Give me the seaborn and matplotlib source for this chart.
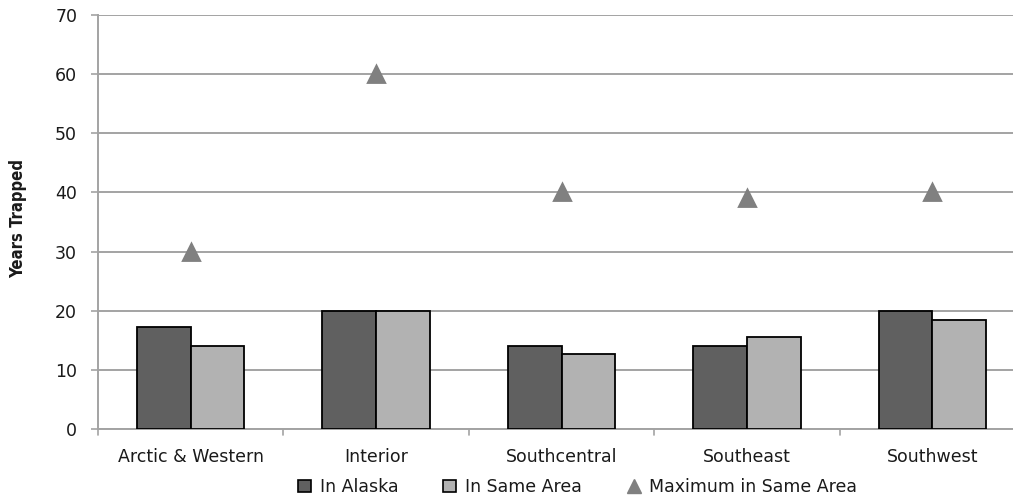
import matplotlib
matplotlib.use("Agg")
import matplotlib.pyplot as plt
from matplotlib.lines import Line2D
from matplotlib.patches import Patch
import pandas as pd
import seaborn as sns

regions = ["Arctic & Western", "Interior", "Southcentral", "Southeast", "Southwest"]
in_alaska = [17.2, 20.0, 14.0, 14.0, 20.0]
in_same_area = [14.0, 20.0, 12.6, 15.5, 18.4]
max_same_area = [30, 60, 40, 39, 40]
series_names = ["In Alaska", "In Same Area", "Maximum in Same Area"]
y_ticks = [0, 10, 20, 30, 40, 50, 60, 70]

bars = pd.DataFrame({
    "Region": regions * 2,
    "Years": in_alaska + in_same_area,
    "Series": [series_names[0]] * len(regions) + [series_names[1]] * len(regions),
})
peaks = pd.DataFrame({"Region": regions, "Years": max_same_area})

sns.set_theme(style="white")
plt.rcParams["font.family"] = ["DejaVu Sans"]

dark, light, tri = "#606060", "#b2b2b2", "#808080"
grid_c = "#a3a3a3"
text_c = "#1a1a1a"

fig = plt.figure(figsize=(10.13, 5.0), dpi=100)
ax = fig.add_axes([98 / 1013, 71 / 500, 927 / 1013, 414 / 500])

sns.barplot(data=bars, x="Region", y="Years", hue="Series", order=regions,
            hue_order=series_names[:2], palette=[dark, light], width=0.58,
            gap=0, edgecolor="black", linewidth=1.3, legend=False, ax=ax, zorder=3)
sns.pointplot(data=peaks, x="Region", y="Years", order=regions, color=tri,
              marker="^", markersize=11, linestyle="none", errorbar=None, ax=ax)
for art in ax.collections + ax.lines:
    art.set_zorder(4)

ax.set_ylim(0, 70)
ax.set_xlim(-0.5, len(regions) - 0.5)
ax.set_yticks(y_ticks)
ax.yaxis.grid(True, color=grid_c, linewidth=1.4, zorder=0)
ax.set_axisbelow(True)
ax.tick_params(axis="y", left=True, length=5, width=1.2, color=grid_c,
               labelsize=12.5, pad=10, labelcolor=text_c)
ax.set_xticks(range(len(regions)))
ax.set_xticklabels(regions)
ax.tick_params(axis="x", bottom=False, labelsize=12.5, pad=8, labelcolor=text_c)
for b in [i + 0.5 for i in range(-1, len(regions))]:
    ax.plot([b, b], [0, -1.0], color=grid_c, lw=1.2, clip_on=False, zorder=1)
for side in ["top", "right"]:
    ax.spines[side].set_visible(False)
for side in ["left", "bottom"]:
    ax.spines[side].set_color(grid_c)
    ax.spines[side].set_linewidth(1.4)

ax.set_xlabel("")
ax.set_ylabel("")
fig.text(18 / 1013, (500 - 219) / 500, "Years Trapped", rotation=90,
         ha="center", va="center", fontsize=12, fontweight="bold",
         fontstretch="condensed", color=text_c,
         family=["Liberation Sans Narrow", "DejaVu Sans"])

handles = [
    Patch(facecolor=dark, edgecolor="black", linewidth=1.2),
    Patch(facecolor=light, edgecolor="black", linewidth=1.2),
    Line2D([], [], marker="^", color=tri, linestyle="none", markersize=10),
]
fig.legend(handles, series_names, loc="center", bbox_to_anchor=(0.57, 0.026),
           ncol=3, frameon=False, fontsize=12.5, handlelength=0.75,
           handleheight=0.75, handletextpad=0.5, columnspacing=2.6,
           labelcolor=text_c)

fig.savefig("out.png", dpi=100)
